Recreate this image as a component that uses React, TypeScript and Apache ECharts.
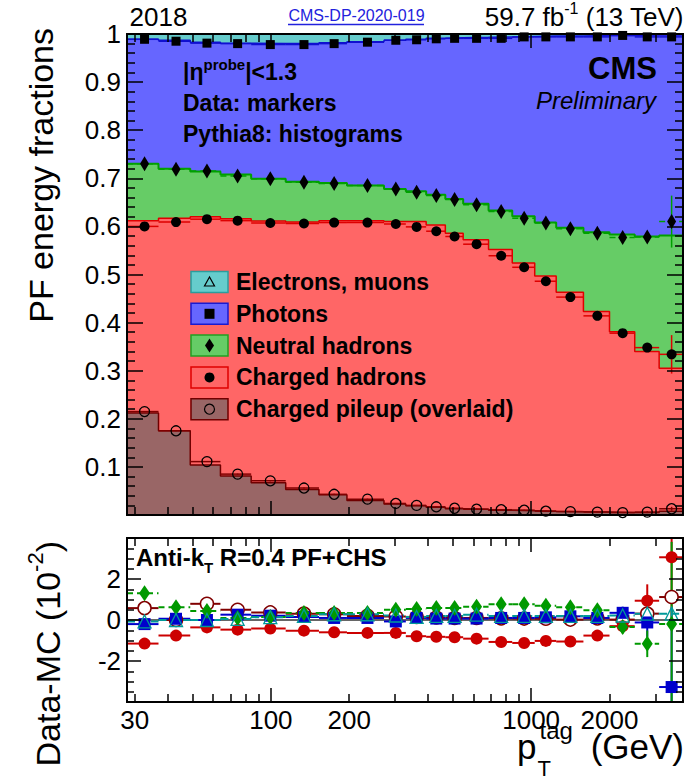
import React, { useEffect, useRef } from 'react';
import * as echarts from 'echarts';

const FONT = '"Liberation Sans", Arial, Helvetica, sans-serif';

// ---- binning (p_T^tag, GeV) ----
const binEdges = [28, 37, 49, 64, 84, 114, 153, 196, 272, 330, 395, 468, 548, 686, 846, 1032, 1248, 1588, 2000, 2500, 3103, 3832];
const ptMean = [32.7, 43.2, 56.8, 74.5, 99.5, 134, 175, 235, 302, 363, 432, 508, 617, 767, 940, 1139, 1415, 1796, 2247, 2793, 3465];

// ---- MC (Pythia8) stacked levels ----
const mcPileupLevel = [0.212, 0.175, 0.104, 0.081, 0.067, 0.053, 0.042, 0.030, 0.023, 0.019, 0.016, 0.013, 0.012, 0.010, 0.009, 0.008, 0.007, 0.006, 0.005, 0.005, 0.008];
const mcChargedLevel = [0.612, 0.617, 0.620, 0.616, 0.611, 0.609, 0.612, 0.612, 0.610, 0.610, 0.603, 0.586, 0.572, 0.552, 0.524, 0.497, 0.463, 0.423, 0.381, 0.340, 0.305];
const mcNeutralLevel = [0.730, 0.720, 0.714, 0.708, 0.699, 0.693, 0.690, 0.685, 0.678, 0.673, 0.666, 0.657, 0.647, 0.633, 0.621, 0.608, 0.597, 0.588, 0.583, 0.579, 0.581];
const mcPhotonLevel = [0.989, 0.987, 0.983, 0.981, 0.980, 0.980, 0.982, 0.984, 0.987, 0.989, 0.991, 0.992, 0.993, 0.994, 0.995, 0.996, 0.996, 0.997, 0.997, 0.998, 0.998];
const mcLeptonLevel = [1, 1, 1, 1, 1, 1, 1, 1, 1, 1, 1, 1, 1, 1, 1, 1, 1, 1, 1, 1, 1];

// ---- Data stacked levels ----
const dataPileupLevel = [0.215, 0.175, 0.111, 0.085, 0.071, 0.056, 0.043, 0.033, 0.024, 0.020, 0.017, 0.014, 0.012, 0.011, 0.010, 0.008, 0.007, 0.006, 0.005, 0.006, 0.013];
const dataChargedLevel = [0.600, 0.609, 0.615, 0.612, 0.607, 0.606, 0.608, 0.608, 0.605, 0.599, 0.590, 0.579, 0.563, 0.539, 0.515, 0.486, 0.453, 0.414, 0.378, 0.348, 0.334];
const dataNeutralLevel = [0.730, 0.719, 0.715, 0.705, 0.699, 0.692, 0.689, 0.685, 0.678, 0.671, 0.664, 0.656, 0.645, 0.631, 0.617, 0.607, 0.595, 0.586, 0.577, 0.578, 0.610];
const dataPhotonLevel = [0.989, 0.985, 0.981, 0.980, 0.978, 0.978, 0.980, 0.983, 0.987, 0.988, 0.990, 0.991, 0.991, 0.991, 0.994, 0.994, 0.994, 0.994, 0.997, 0.994, 0.994];
const dataErrCharged = [0.002, 0.002, 0.002, 0.002, 0.002, 0.002, 0.002, 0.002, 0.002, 0.002, 0.002, 0.002, 0.002, 0.002, 0.002, 0.002, 0.003, 0.003, 0.004, 0.008, 0.04];
const dataErrNeutral = [0.002, 0.002, 0.002, 0.002, 0.002, 0.002, 0.002, 0.002, 0.002, 0.002, 0.002, 0.002, 0.002, 0.002, 0.002, 0.002, 0.003, 0.003, 0.004, 0.01, 0.054];
const dataErrSmall = [0.001, 0.001, 0.001, 0.001, 0.001, 0.001, 0.001, 0.001, 0.001, 0.001, 0.001, 0.001, 0.001, 0.001, 0.001, 0.001, 0.001, 0.001, 0.001, 0.002, 0.004];

// ---- Data - MC (10^-2) ----
const diffCharged = [-1.15, -0.76, -0.36, -0.47, -0.42, -0.52, -0.60, -0.63, -0.63, -0.79, -0.82, -0.84, -0.91, -1.07, -1.12, -1.02, -1.05, -0.76, -0.30, 0.94, 3.06];
const diffNeutral = [1.31, 0.62, 0.44, 0.10, 0.15, 0.34, 0.34, 0.34, 0.50, 0.54, 0.58, 0.58, 0.65, 0.77, 0.77, 0.70, 0.62, 0.48, -0.34, -1.16, -0.19];
const diffPhoton = [-0.20, 0.06, 0.00, 0.26, 0.21, 0.15, 0.10, 0.10, -0.07, 0.10, 0.07, 0.07, 0.07, 0.10, 0.10, 0.13, 0.18, 0.10, 0.35, -0.12, -3.27];
const diffLepton = [-0.07, 0.00, 0.00, 0.05, 0.14, 0.20, 0.28, 0.28, 0.22, 0.15, 0.20, 0.20, 0.26, 0.20, 0.20, 0.20, 0.20, 0.20, 0.22, 0.31, 0.31];
const diffPileup = [0.58, 0.00, 0.79, 0.50, 0.37, 0.31, 0.28, 0.20, 0.17, 0.15, 0.12, 0.10, 0.10, 0.08, 0.07, 0.06, 0.02, 0.08, 0.02, 0.31, 1.12];
const errDiffCharged = [0.08, 0.06, 0.06, 0.06, 0.06, 0.06, 0.06, 0.06, 0.07, 0.07, 0.08, 0.09, 0.1, 0.1, 0.12, 0.14, 0.18, 0.22, 0.35, 0.8, 3.5];
const errDiffNeutral = [0.1, 0.08, 0.08, 0.08, 0.08, 0.08, 0.08, 0.08, 0.08, 0.08, 0.1, 0.1, 0.1, 0.12, 0.14, 0.15, 0.18, 0.22, 0.3, 0.65, 4.0];
const errDiffPhoton = [0.06, 0.05, 0.05, 0.05, 0.05, 0.05, 0.05, 0.05, 0.05, 0.05, 0.06, 0.06, 0.07, 0.08, 0.09, 0.1, 0.12, 0.15, 0.3, 0.7, 3.0];
const errDiffLepton = [0.03, 0.03, 0.03, 0.03, 0.03, 0.03, 0.03, 0.03, 0.03, 0.03, 0.03, 0.03, 0.03, 0.03, 0.03, 0.03, 0.04, 0.05, 0.06, 0.1, 0.3];
const errDiffPileup = [0.05, 0.04, 0.04, 0.04, 0.04, 0.04, 0.04, 0.04, 0.04, 0.04, 0.04, 0.04, 0.04, 0.04, 0.04, 0.04, 0.05, 0.06, 0.08, 0.15, 0.3];

// ---- axis ticks / labels ----
const xMinorTicks = [30, 40, 50, 60, 70, 80, 90, 200, 300, 400, 500, 600, 700, 800, 900, 2000, 3000];
const xMajorTicks = [100, 1000];
const xTickLabels = [30, 100, 200, 1000, 2000];

const legendLabels = ['Electrons, muons', 'Photons', 'Neutral hadrons', 'Charged hadrons', 'Charged pileup (overlaid)'];

// ---- helpers ----
const lg = (v: number) => Math.log10(v);
const X_MIN = lg(binEdges[0]);
const X_MAX = lg(binEdges[binEdges.length - 1]);
const ZG = 100;

let measureCtx: CanvasRenderingContext2D | null = null;
function tw(text: string, size: number, weight = 'normal', style = 'normal') {
  if (!measureCtx) measureCtx = document.createElement('canvas').getContext('2d');
  measureCtx!.font = `${style} ${weight} ${size}px ${FONT}`;
  return measureCtx!.measureText(text).width;
}

type Piece = { text: string; size: number; dy?: number; dx?: number; color?: string };
function textRun(pieces: Piece[], x: number, y: number, anchor: 'left' | 'right' | 'center', weight = 'normal', fstyle = 'normal', rotation = 0) {
  const widths = pieces.map((p) => tw(p.text, p.size, weight, fstyle) + (p.dx || 0));
  const total = widths.reduce((a, b) => a + b, 0);
  let cx = anchor === 'left' ? 0 : anchor === 'right' ? -total : -total / 2;
  const children = pieces.map((p, i) => {
    const el = {
      type: 'text',
      z: ZG,
      x: cx + (p.dx || 0),
      y: p.dy || 0,
      style: {
        text: p.text, fill: p.color || '#000', fontSize: p.size, fontWeight: weight, fontStyle: fstyle,
        fontFamily: FONT, align: 'left', textAlign: 'left', verticalAlign: 'middle', textVerticalAlign: 'middle',
      },
    };
    cx += widths[i];
    return el;
  });
  return { type: 'group', x, y, rotation, z: ZG, silent: true, children };
}

function stepData(levels: number[]) {
  const pts = levels.map((v, i) => [lg(binEdges[i]), v]);
  pts.push([X_MAX, levels[levels.length - 1]]);
  return pts;
}

function histSeries(levels: number[], fill: string, edge: string, width: number) {
  return {
    type: 'line', xAxisIndex: 0, yAxisIndex: 0, step: 'end', symbol: 'none', silent: true, z: 1,
    data: stepData(levels), lineStyle: { color: edge, width }, areaStyle: { color: fill, opacity: 1 },
  };
}

function errorBars(xi: number, yi: number, vals: number[], errs: number[], color: string, dash: number[] | null, lo: number, hi: number, width: number) {
  return {
    type: 'custom', xAxisIndex: xi, yAxisIndex: yi, silent: true, clip: true, z: 5,
    data: vals.map((v, i) => [lg(binEdges[i]), lg(binEdges[i + 1]), v, errs[i], lg(ptMean[i])]),
    encode: { x: [0, 1, 4], y: [2] },
    renderItem: (_params: any, api: any) => {
      const x0 = api.value(0), x1 = api.value(1), y = api.value(2), e = api.value(3), xm = api.value(4);
      const a = api.coord([x0, y]);
      const b = api.coord([x1, y]);
      const t = api.coord([xm, Math.min(hi, y + e)]);
      const u = api.coord([xm, Math.max(lo, y - e)]);
      const hs: any = { stroke: color, lineWidth: width };
      if (dash) hs.lineDash = dash;
      return {
        type: 'group',
        children: [
          { type: 'line', shape: { x1: a[0], y1: a[1], x2: b[0], y2: b[1] }, style: hs },
          { type: 'line', shape: { x1: t[0], y1: t[1], x2: u[0], y2: u[1] }, style: { stroke: color, lineWidth: width } },
        ],
      };
    },
  };
}

function markers(xi: number, yi: number, vals: number[], symbol: string, size: any, fill: string, stroke: string, bw: number) {
  return {
    type: 'scatter', xAxisIndex: xi, yAxisIndex: yi, symbol, symbolSize: size, silent: true, z: 8,
    data: vals.map((v, i) => [lg(ptMean[i]), v]),
    itemStyle: { color: fill, borderColor: stroke, borderWidth: bw, opacity: 1 },
  };
}

function xAxis(gridIndex: number, position: string, ticks: number[], len: number, labels?: number[]) {
  return {
    type: 'value', gridIndex, position, min: X_MIN, max: X_MAX, z: 20,
    axisLine: { show: true, onZero: false, lineStyle: { color: '#000', width: 2 } },
    axisTick: { show: true, inside: true, length: len, customValues: ticks.map(lg), lineStyle: { color: '#000', width: 1.5 } },
    minorTick: { show: false },
    splitLine: { show: false },
    axisLabel: labels
      ? { show: true, customValues: labels.map(lg), formatter: (v: number) => String(Math.round(Math.pow(10, v))), color: '#000', fontSize: 26, fontFamily: FONT, margin: 5 }
      : { show: false },
  };
}

function yAxis(gridIndex: number, position: string, min: number, max: number, interval: number, minorSplit: number, majorLen: number, minorLen: number, formatter?: (v: number) => string) {
  return {
    type: 'value', gridIndex, position, min, max, interval, z: 20,
    axisLine: { show: true, onZero: false, lineStyle: { color: '#000', width: 2 } },
    axisTick: { show: true, inside: true, length: majorLen, lineStyle: { color: '#000', width: 1.5 } },
    minorTick: { show: true, splitNumber: minorSplit, length: minorLen, lineStyle: { color: '#000', width: 1.5 } },
    splitLine: { show: false },
    axisLabel: formatter
      ? { show: true, formatter, color: '#000', fontSize: 26, fontFamily: FONT, margin: 6, showMinLabel: true, showMaxLabel: true }
      : { show: false },
  };
}

function buildOption() {
  const topFmt = (v: number) => (v < 0.05 ? '' : v > 0.95 ? '1' : v.toFixed(1));
  const botFmt = (v: number) => (Math.abs(v) > 3 ? '' : String(Math.round(v)));

  const rowY = [282, 313.8, 345.6, 377.4, 409.2];
  const boxFill = ['#66cccc', '#6666ff', '#66cc66', '#ff6666', '#996666'];
  const boxEdge = ['#2a9d9d', '#1a1ad0', '#22a022', '#e00000', '#700000'];
  const legendEls: any[] = [];
  rowY.forEach((cy, i) => {
    legendEls.push({ type: 'rect', z: ZG, shape: { x: 191, y: cy - 10.5, width: 37, height: 21 }, style: { fill: boxFill[i], stroke: boxEdge[i], lineWidth: 1.5 }, silent: true });
    const cx = 209.5;
    if (i === 0) legendEls.push({ type: 'polygon', z: ZG + 1, shape: { points: [[cx, cy - 5], [cx - 5, cy + 4], [cx + 5, cy + 4]] }, style: { fill: 'none', stroke: '#000', lineWidth: 1.2 }, silent: true });
    if (i === 1) legendEls.push({ type: 'rect', z: ZG + 1, shape: { x: cx - 5, y: cy - 5, width: 10, height: 10 }, style: { fill: '#000' }, silent: true });
    if (i === 2) legendEls.push({ type: 'polygon', z: ZG + 1, shape: { points: [[cx, cy - 7], [cx + 4.5, cy], [cx, cy + 7], [cx - 4.5, cy]] }, style: { fill: '#000' }, silent: true });
    if (i === 3) legendEls.push({ type: 'circle', z: ZG + 1, shape: { cx, cy, r: 5 }, style: { fill: '#000' }, silent: true });
    if (i === 4) legendEls.push({ type: 'circle', z: ZG + 1, shape: { cx, cy, r: 5 }, style: { fill: 'none', stroke: '#000', lineWidth: 1.2 }, silent: true });
    legendEls.push(textRun([{ text: legendLabels[i], size: 23 }], 236, cy, 'left', 'bold'));
  });

  const pStart = 517;
  const pW = tw('p', 35);

  const graphic: any[] = [
    textRun([{ text: '2018', size: 26 }], 129.5, 17, 'left'),
    textRun([{ text: 'CMS-DP-2020-019', size: 16, color: '#2222dd' }], 356.5, 15, 'center'),
    { type: 'line', z: ZG, shape: { x1: 288, y1: 24.5, x2: 424, y2: 24.5 }, style: { stroke: '#2222dd', lineWidth: 1.5 }, silent: true },
    textRun([{ text: '59.7 fb', size: 26 }, { text: '-1', size: 16, dy: -9 }, { text: ' (13 TeV)', size: 26 }], 684, 17, 'right'),
    textRun([{ text: 'CMS', size: 31 }], 657, 68, 'right', 'bold'),
    textRun([{ text: 'Preliminary', size: 24 }], 656, 100, 'right', 'normal', 'italic'),
    textRun([{ text: '|\u03b7', size: 23 }, { text: 'probe', size: 15, dy: -8 }, { text: '|<1.3', size: 23 }], 183, 72, 'left', 'bold'),
    textRun([{ text: 'Data: markers', size: 23 }], 183, 103, 'left', 'bold'),
    textRun([{ text: 'Pythia8: histograms', size: 23 }], 183, 134, 'left', 'bold'),
    ...legendEls,
    textRun([{ text: 'Anti-k', size: 24 }, { text: 'T', size: 15, dy: 10 }, { text: ' R=0.4 PF+CHS', size: 24 }], 136, 557, 'left', 'bold'),
    textRun([{ text: 'PF energy fractions', size: 34 }], 40.5, 28, 'right', 'normal', 'normal', Math.PI / 2),
    textRun([{ text: 'Data-MC (10', size: 34 }, { text: '-2', size: 22, dy: -13 }, { text: ')', size: 34 }], 48, 541, 'right', 'normal', 'normal', Math.PI / 2),
    textRun([{ text: '(GeV)', size: 35 }], 684, 746, 'right'),
    textRun([{ text: 'p', size: 35 }], pStart, 746, 'left'),
    textRun([{ text: 'T', size: 22 }], pStart + pW + 1, 768, 'left'),
    textRun([{ text: 'tag', size: 24 }], pStart + pW + 3, 730, 'left'),
  ];

  const series: any[] = [
    histSeries(mcLeptonLevel, '#66cccc', '#2a9d9d', 1),
    histSeries(mcPhotonLevel, '#6666ff', '#1010d0', 1.5),
    histSeries(mcNeutralLevel, '#66cc66', '#00a000', 2),
    histSeries(mcChargedLevel, '#ff6666', '#e00000', 1.5),
    histSeries(mcPileupLevel, '#996666', '#700000', 1.5),
    errorBars(0, 0, dataPileupLevel, dataErrSmall, '#800000', null, 0, 1, 1.5),
    errorBars(0, 0, dataChargedLevel, dataErrCharged, '#dd0000', null, 0, 1, 1.5),
    errorBars(0, 0, dataNeutralLevel, dataErrNeutral, '#00a000', [6, 4], 0, 1, 1.5),
    errorBars(0, 0, dataPhotonLevel, dataErrSmall, '#1010d0', null, 0, 1, 1.5),
    markers(0, 0, dataPileupLevel, 'circle', 10, 'rgba(0,0,0,0)', '#000', 1.3),
    markers(0, 0, dataChargedLevel, 'circle', 10, '#000', '#000', 0),
    markers(0, 0, dataNeutralLevel, 'diamond', [9, 15], '#000', '#000', 0),
    markers(0, 0, dataPhotonLevel, 'rect', 9, '#000', '#000', 0),
    // ratio panel
    {
      type: 'line', xAxisIndex: 4, yAxisIndex: 2, symbol: 'none', silent: true, z: 2,
      data: [[X_MIN, 0], [X_MAX, 0]], lineStyle: { color: '#666', width: 2 },
    },
    errorBars(4, 2, diffPileup, errDiffPileup, '#800000', null, -4, 4, 2),
    errorBars(4, 2, diffCharged, errDiffCharged, '#cc0000', null, -4, 4, 2),
    errorBars(4, 2, diffPhoton, errDiffPhoton, '#0000cc', null, -4, 4, 2),
    errorBars(4, 2, diffNeutral, errDiffNeutral, '#009900', [6, 4], -4, 4, 2),
    errorBars(4, 2, diffLepton, errDiffLepton, '#009999', [8, 4], -4, 4, 2),
    markers(4, 2, diffPileup, 'circle', 13, '#ffffff', '#800000', 1.5),
    markers(4, 2, diffCharged, 'circle', 12, '#cc0000', '#cc0000', 0),
    markers(4, 2, diffPhoton, 'rect', 12, '#0000cc', '#0000cc', 0),
    markers(4, 2, diffNeutral, 'diamond', [11, 16], '#009900', '#009900', 0),
    markers(4, 2, diffLepton, 'triangle', 13, 'rgba(0,0,0,0)', '#009999', 1.3),
  ];

  return {
    animation: false,
    backgroundColor: '#ffffff',
    textStyle: { fontFamily: FONT },
    grid: [
      { left: 127, top: 34, width: 556, height: 481, outerBoundsMode: 'none', containLabel: false },
      { left: 127, top: 538, width: 556, height: 164, outerBoundsMode: 'none', containLabel: false },
    ],
    xAxis: [
      xAxis(0, 'bottom', xMinorTicks, 8),
      xAxis(0, 'bottom', xMajorTicks, 14),
      xAxis(0, 'top', xMinorTicks, 8),
      xAxis(0, 'top', xMajorTicks, 14),
      xAxis(1, 'bottom', xMinorTicks, 8, xTickLabels),
      xAxis(1, 'bottom', xMajorTicks, 14),
      xAxis(1, 'top', xMinorTicks, 8),
      xAxis(1, 'top', xMajorTicks, 14),
    ],
    yAxis: [
      yAxis(0, 'left', 0, 1, 0.1, 5, 16, 8, topFmt),
      yAxis(0, 'right', 0, 1, 0.1, 5, 16, 8),
      yAxis(1, 'left', -4, 4, 2, 4, 14, 7, botFmt),
      yAxis(1, 'right', -4, 4, 2, 4, 14, 7),
    ],
    series,
    graphic,
  };
}

export default function App() {
  const ref = useRef<HTMLDivElement>(null);
  useEffect(() => {
    const chart = echarts.init(ref.current!, null, { renderer: 'svg' });
    chart.setOption(buildOption() as any);
    return () => chart.dispose();
  }, []);
  return <div ref={ref} style={{ position: 'fixed', left: 0, top: 0, width: 691, height: 779, background: '#ffffff' }} />;
}
